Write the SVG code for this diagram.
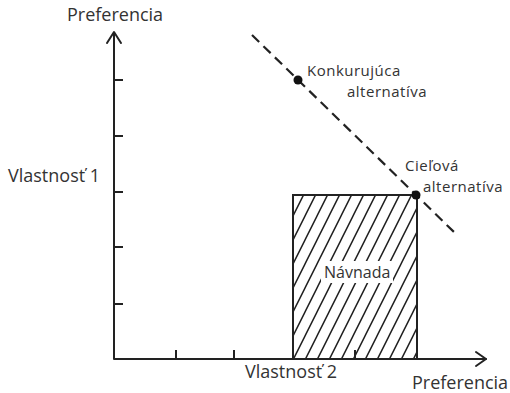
<svg xmlns="http://www.w3.org/2000/svg" width="510" height="393" viewBox="0 0 510 393">
  <style>
    .axis { stroke: #222; stroke-width: 2; fill: none; stroke-linecap: round; stroke-linejoin: round; }
    .tick { stroke: #222; stroke-width: 2; }
    .lbl { font-family: "Open Sans", "Liberation Sans", sans-serif; fill: #333; }
    .big { font-size: 18px; }
    .small { font-size: 16px; }
    .pt { font-size: 15px; letter-spacing: 0.5px; }
    .dash { stroke: #222; stroke-width: 2.2; stroke-dasharray: 10 6; fill: none; }
    .dot { fill: #111; }
  </style>
  <defs>
    <pattern id="hatch" patternUnits="userSpaceOnUse" x="293" y="0" width="12" height="24">
      <path d="M0,24 L12,0 M-6,12 L6,-12 M6,36 L18,12" stroke="#222" stroke-width="1.5"/>
    </pattern>
  </defs>

  <rect width="510" height="393" fill="#fff"/>

  <!-- axes -->
  <g id="axes">
    <path class="axis" d="M114,33 L114,359 L486,359"/>
    <path class="axis" d="M107,43 L114,32 L121,43"/>
    <path class="axis" d="M476,352 L486,359 L476,366"/>
    <g class="tick">
      <line x1="114" y1="80" x2="123" y2="80"/>
      <line x1="114" y1="136" x2="123" y2="136"/>
      <line x1="114" y1="192" x2="123" y2="192"/>
      <line x1="114" y1="247" x2="123" y2="247"/>
      <line x1="114" y1="304" x2="123" y2="304"/>
      <line x1="176" y1="359" x2="176" y2="350"/>
      <line x1="234" y1="359" x2="234" y2="350"/>
      <line x1="355" y1="359" x2="355" y2="350"/>
    </g>
    <text class="lbl big" x="67" y="21">Preferencia</text>
    <text class="lbl big" x="8" y="182">Vlastnosť 1</text>
    <text class="lbl big" x="245" y="378">Vlastnosť 2</text>
    <text class="lbl big" x="412" y="389">Preferencia</text>
  </g>

  <!-- decoy region -->
  <g id="decoy">
    <rect x="293" y="195" width="124" height="164" fill="url(#hatch)"/>
    <rect x="321" y="261" width="72" height="22" fill="#fff"/>
    <rect x="293" y="195" width="124" height="164" fill="none" stroke="#222" stroke-width="2"/>
    <text class="lbl small" x="324" y="278">Návnada</text>
  </g>

  <!-- connectors -->
  <g id="connectors">
    <line class="dash" x1="252" y1="35" x2="455" y2="233"/>
  </g>

  <g id="competitor">
    <circle class="dot" cx="298" cy="80" r="4.5"/>
    <text class="lbl pt" x="307" y="76">Konkurujúca</text>
    <text class="lbl pt" x="347" y="97">alternatíva</text>
  </g>

  <g id="target">
    <circle class="dot" cx="416" cy="195" r="4.5"/>
    <text class="lbl pt" x="405" y="171">Cieľová</text>
    <text class="lbl pt" x="423" y="192">alternatíva</text>
  </g>
</svg>
